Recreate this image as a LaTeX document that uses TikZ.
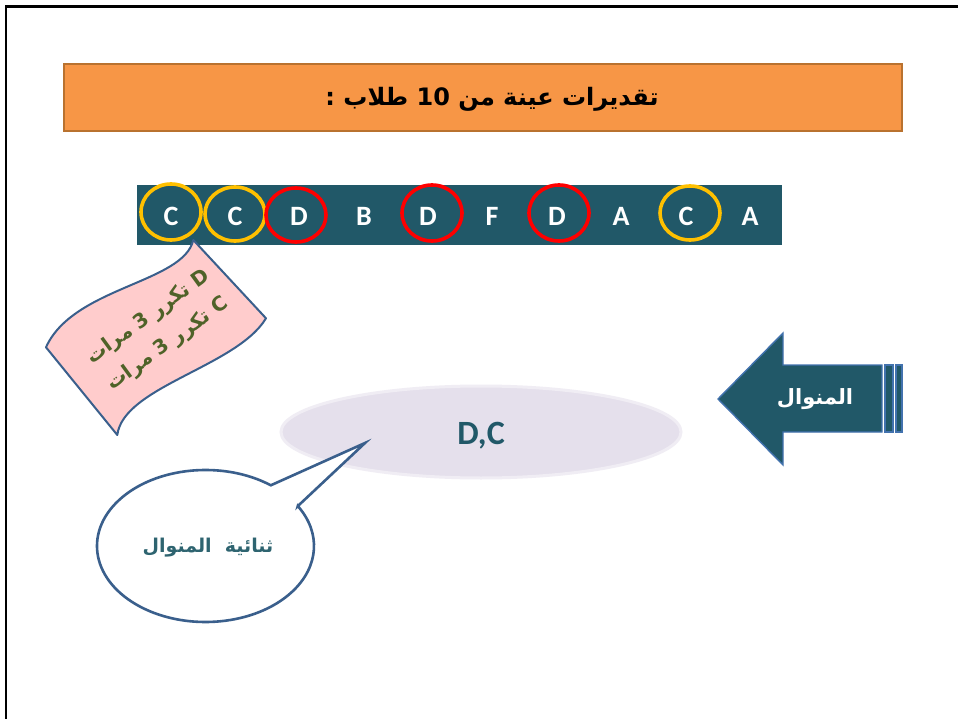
\documentclass[tikz,border=0pt]{standalone}
\usepackage{fontspec}
\setmainfont{Carlito}
\newfontfamily\arabicfont[Script=Arabic]{DejaVu Sans}
\TeXXeTstate=1
\usetikzlibrary{shapes.geometric}

\definecolor{barorange}{HTML}{F79646}
\definecolor{orangeedge}{HTML}{B9722F}
\definecolor{tealdark}{HTML}{215868}
\definecolor{ringgold}{HTML}{FFC000}
\definecolor{ringred}{HTML}{FF0000}
\definecolor{wavepink}{HTML}{FFCCCC}
\definecolor{edgeblue}{HTML}{3A5F8C}
\definecolor{arrowedge}{HTML}{4272AE}
\definecolor{olive}{HTML}{4F6228}
\definecolor{lavender}{HTML}{E5E0EC}
\definecolor{lavenderrim}{HTML}{F0EDF4}
\definecolor{bubbletext}{HTML}{2E6470}

\tikzset{
  grade/.style={text=white, font=\bfseries\fontsize{28}{32}\selectfont, inner sep=0pt},
  goldring/.style={draw=ringgold, line width=3.6pt},
  redring/.style={draw=ringred, line width=3.6pt},
  arabictxt/.style={inner sep=0pt, align=center},
}

\begin{document}
\begin{tikzpicture}[x=1pt,y=-1pt]
  \useasboundingbox (0,0) rectangle (958,719);
  \fill[white] (0,0) rectangle (958,719);

  % page frame: top and left rules only
  \draw[black, line width=2.6pt] (6,719) -- (6,6.5) -- (958,6.5);

  % title bar
  \draw[fill=barorange, draw=orangeedge, line width=1.6pt] (64,64) rectangle (902,131);
  \node[arabictxt, text=black] (title) at (492,99)
    {\arabicfont\bfseries\fontsize{24}{28}\selectfont\beginR تقديرات عينة من  \beginL10\endL{} طلاب :\endR};

  % strip of sample grades
  \fill[tealdark] (137,185) rectangle (782,245);

  % wavy note under the strip
  \draw[fill=wavepink, draw=edgeblue, line width=2pt, line join=round]
    (46,347.3) .. controls (73.3,286.7) and (183.3,283.3) .. (193.3,240)
    -- (266,318.3)
    .. controls (236.7,366.7) and (123.3,386.7) .. (117.3,435)
    -- cycle;
  \node[arabictxt, text=olive, rotate=36,
        font=\arabicfont\bfseries\fontsize{20}{33}\selectfont] (note) at (158,331)
    {\beginR D تكرر 3 مرات\endR\\ \beginR C تكرر 3 مرات\endR};

  % rings around the repeated grades
  \draw[goldring] (171,212) ellipse [x radius=30pt, y radius=28pt];
  \draw[goldring] (235,214) ellipse [x radius=30pt, y radius=27pt];
  \draw[redring]  (296,215) ellipse [x radius=30pt, y radius=27pt];
  \draw[redring]  (432,213) ellipse [x radius=30pt, y radius=28pt];
  \draw[redring]  (559,213) ellipse [x radius=30pt, y radius=28pt];
  \draw[goldring] (690,213) ellipse [x radius=30pt, y radius=27pt];

  % the grades
  \node[grade] (g1)  at (171,216) {C};
  \node[grade] (g2)  at (235,216) {C};
  \node[grade] (g3)  at (299,216) {D};
  \node[grade] (g4)  at (364,216) {B};
  \node[grade] (g5)  at (428,216) {D};
  \node[grade] (g6)  at (492,216) {F};
  \node[grade] (g7)  at (557,216) {D};
  \node[grade] (g8)  at (621,216) {A};
  \node[grade] (g9)  at (686,216) {C};
  \node[grade] (g10) at (750,216) {A};

  % left-pointing arrow with the label
  \draw[fill=tealdark, draw=arrowedge, line width=1.4pt, line join=miter]
    (718,399) -- (783,333) -- (783,365) -- (882,365) -- (882,432)
    -- (783,432) -- (783,465) -- cycle;
  \draw[fill=tealdark, draw=arrowedge, line width=1.2pt] (885,365) rectangle (893,432);
  \draw[fill=tealdark, draw=arrowedge, line width=1.2pt] (896,365) rectangle (902,432);
  \node[arabictxt, text=white] (modeword) at (815,399)
    {\arabicfont\bfseries\fontsize{21}{24}\selectfont\beginR المنوال\endR};

  % the result
  \draw[fill=lavender, draw=lavenderrim, line width=3pt] (481,432) ellipse [x radius=200pt, y radius=46pt];
  \node[inner sep=0pt, text=tealdark] (result) at (481,436)
    {\bfseries\fontsize{34}{38}\selectfont D,C};

  % speech bubble pointing at the result
  \draw[fill=white, draw=edgeblue, line width=2.6pt, line join=miter]
    (297.8,506.1) -- (365,443) -- (270.8,485.3)
    arc[start angle=53, end angle=391.7, x radius=108.5pt, y radius=76pt] -- cycle;
  \node[arabictxt, text=bubbletext] (bimodal) at (208,548)
    {\arabicfont\bfseries\fontsize{19}{22}\selectfont\beginR ثنائية\ \ المنوال\endR};
\end{tikzpicture}
\end{document}
